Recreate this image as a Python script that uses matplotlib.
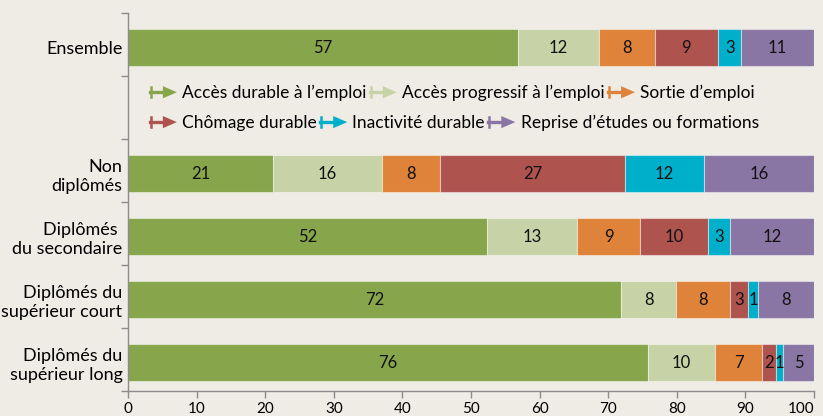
import matplotlib
matplotlib.use("Agg")
import matplotlib.pyplot as plt
from matplotlib.legend_handler import HandlerBase
from matplotlib.lines import Line2D
from matplotlib.patches import Patch, Polygon

plt.rcParams['font.family'] = ['Lato', 'DejaVu Sans']

# === Data ===
categories = ["Ensemble", "Non\ndiplômés", "Diplômés \ndu secondaire",
              "Diplômés du\nsupérieur court", "Diplômés du\nsupérieur long"]
series_names = ["Accès durable à l\u2019emploi", "Accès progressif à l\u2019emploi",
                "Sortie d\u2019emploi", "Chômage durable", "Inactivité durable",
                "Reprise d\u2019études ou formations"]

# widths (unrounded), one list per series
acces_durable = [56.9, 21.2, 52.3, 71.9, 75.8]
acces_progressif = [11.7, 15.8, 13.2, 8.0, 9.8]
sortie_emploi = [8.2, 8.5, 9.1, 7.9, 6.8]
chomage_durable = [9.2, 26.9, 10.0, 2.6, 2.1]
inactivite_durable = [3.4, 11.5, 3.2, 1.4, 1.0]
reprise_etudes = [10.6, 16.1, 12.2, 8.2, 4.5]

# printed labels
lbl_acces_durable = [57, 21, 52, 72, 76]
lbl_acces_progressif = [12, 16, 13, 8, 10]
lbl_sortie_emploi = [8, 8, 9, 8, 7]
lbl_chomage_durable = [9, 27, 10, 3, 2]
lbl_inactivite_durable = [3, 12, 3, 1, 1]
lbl_reprise_etudes = [11, 16, 12, 8, 5]

x_ticks = [0, 10, 20, 30, 40, 50, 60, 70, 80, 90, 100]

series = [acces_durable, acces_progressif, sortie_emploi,
          chomage_durable, inactivite_durable, reprise_etudes]
labels = [lbl_acces_durable, lbl_acces_progressif, lbl_sortie_emploi,
          lbl_chomage_durable, lbl_inactivite_durable, lbl_reprise_etudes]
colors = ['#87a54a', '#c7d3a6', '#de8339', '#af534f', '#00afc9', '#8a76a4']

BG = '#efebe5'
AXIS_GREY = '#8c8c8c'


class ArrowHandler(HandlerBase):
    """Legend key drawn as |---> in the series colour."""
    def create_artists(self, legend, orig_handle, xdescent, ydescent,
                       width, height, fontsize, trans):
        c = orig_handle.get_facecolor()
        y = height / 2 - ydescent
        x0 = -xdescent
        x1 = x0 + width
        tw = width * 0.52
        h = height
        line = Line2D([x0, x1 - tw + 1], [y, y], color=c, lw=2.4)
        bar = Line2D([x0 + 0.8, x0 + 0.8], [y - h * 0.4, y + h * 0.4], color=c, lw=1.8)
        tri = Polygon([[x1 - tw, y - h * 0.5], [x1, y], [x1 - tw, y + h * 0.5]],
                      closed=True, fc=c, ec='none')
        for a in (line, bar, tri):
            a.set_transform(trans)
        return [line, bar, tri]


fig = plt.figure(figsize=(8.23, 4.16), dpi=100, facecolor=BG)
ax = fig.add_axes([128 / 823, 25 / 416, 686 / 823, 378 / 416], facecolor=BG)

# slot 1 is left empty for the legend
slots = [0] + [i + 2 for i in range(len(categories) - 1)]
ypos = [s + 0.05 for s in slots]

left = [0.0] * len(categories)
for vals, lbls, col in zip(series, labels, colors):
    ax.barh(ypos, vals, left=left, height=0.59, color=col,
            edgecolor=(1, 1, 1, 0.45), linewidth=0.8)
    for y, l, v, t in zip(ypos, left, vals, lbls):
        ax.text(l + v / 2, y, str(t), ha='center', va='center',
                fontsize=12, color='#111111')
    left = [a + b for a, b in zip(left, vals)]

ax.set_xlim(0, 100)
ax.set_ylim(5.5, -0.5)
ax.set_xticks(x_ticks)
ax.set_xticklabels([str(t) for t in x_ticks], fontsize=11)
# last label pulled in so it stays inside the figure
ax.get_xticklabels()[-1].set_horizontalalignment('right')

ax.set_yticks([i - 0.5 for i in range(7)])
ax.set_yticklabels([])
ax.set_yticks(ypos, minor=True)
ax.set_yticklabels(categories, minor=True, fontsize=13, ha='right')
ax.tick_params(axis='y', which='minor', length=0, pad=4)
ax.tick_params(axis='y', which='major', length=5, color=AXIS_GREY, width=1)
ax.tick_params(axis='x', length=5, color=AXIS_GREY, width=1, pad=3)

for side in ['top', 'right']:
    ax.spines[side].set_visible(False)
for side in ['left', 'bottom']:
    ax.spines[side].set_color(AXIS_GREY)
    ax.spines[side].set_linewidth(1)

handles = [Patch(facecolor=c) for c in colors]
hmap = {Patch: ArrowHandler()}
leg_kw = dict(ncol=3, frameon=False, fontsize=12.5, handler_map=hmap,
              handlelength=1.55, handletextpad=0.3, columnspacing=0.2,
              borderpad=0, borderaxespad=0, loc='center left',
              bbox_transform=ax.transAxes)
leg1 = ax.legend(handles[:3], series_names[:3], bbox_to_anchor=(0.032, 0.788), **leg_kw)
ax.add_artist(leg1)
ax.legend(handles[3:], series_names[3:], bbox_to_anchor=(0.032, 0.709), **leg_kw)

fig.savefig("out.png", dpi=100, facecolor=BG)
